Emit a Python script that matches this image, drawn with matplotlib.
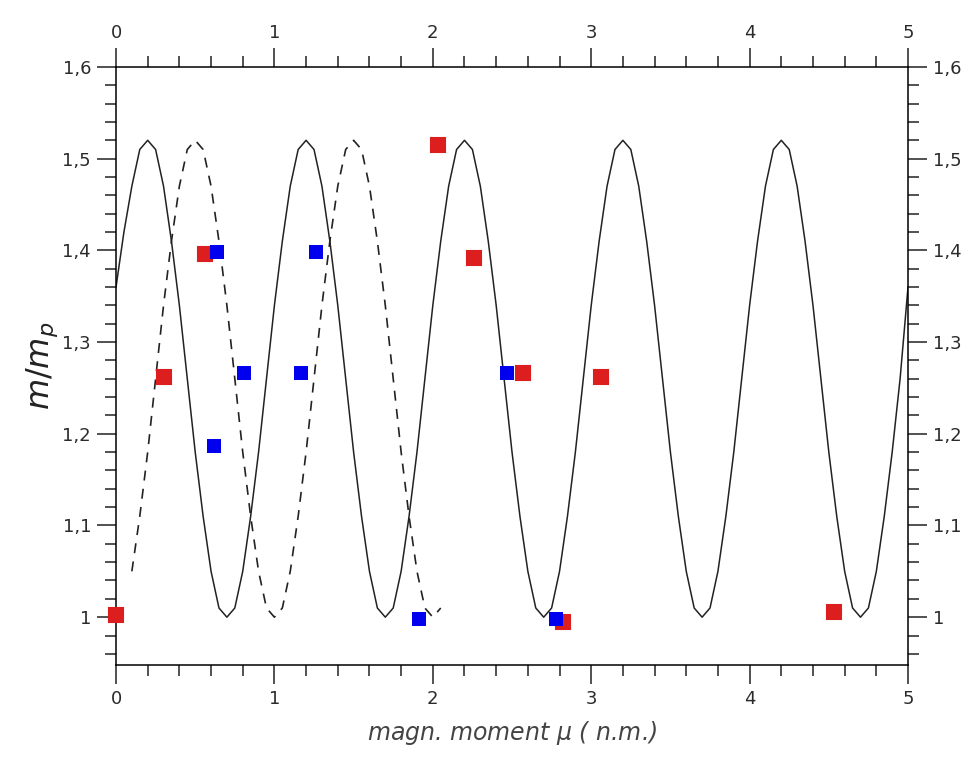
import matplotlib
matplotlib.use('Agg')
import matplotlib.pyplot as plt
from matplotlib.ticker import MultipleLocator, FuncFormatter

plt.rcParams.update({
    'font.family': 'DejaVu Sans',
    'font.size': 13,
    'axes.linewidth': 1.1,
})

# ── solid curve (read every 0.05) ────────────────────────────────────────────
solid_x = [i * 0.05 for i in range(101)]
solid_y = [
    1.36, 1.42, 1.47, 1.51, 1.52, 1.51, 1.47, 1.41, 1.34, 1.26,
    1.18, 1.11, 1.05, 1.01, 1.00, 1.01, 1.05, 1.11, 1.18, 1.26,
    1.34, 1.41, 1.47, 1.51, 1.52, 1.51, 1.47, 1.41, 1.34, 1.26,
    1.18, 1.11, 1.05, 1.01, 1.00, 1.01, 1.05, 1.11, 1.18, 1.26,
    1.34, 1.41, 1.47, 1.51, 1.52, 1.51, 1.47, 1.41, 1.34, 1.26,
    1.18, 1.11, 1.05, 1.01, 1.00, 1.01, 1.05, 1.11, 1.18, 1.26,
    1.34, 1.41, 1.47, 1.51, 1.52, 1.51, 1.47, 1.41, 1.34, 1.26,
    1.18, 1.11, 1.05, 1.01, 1.00, 1.01, 1.05, 1.11, 1.18, 1.26,
    1.34, 1.41, 1.47, 1.51, 1.52, 1.51, 1.47, 1.41, 1.34, 1.26,
    1.18, 1.11, 1.05, 1.01, 1.00, 1.01, 1.05, 1.11, 1.18, 1.26,
    1.36,
]

# ── dashed curve (0.10 … 2.05) ───────────────────────────────────────────────
dash_x = [0.10 + i * 0.05 for i in range(40)]
dash_y = [
    1.05, 1.11, 1.18, 1.26, 1.34, 1.41, 1.47, 1.51, 1.52, 1.51,
    1.47, 1.41, 1.34, 1.26, 1.18, 1.11, 1.05, 1.01, 1.00, 1.01,
    1.05, 1.11, 1.18, 1.26, 1.34, 1.41, 1.47, 1.51, 1.52, 1.51,
    1.47, 1.41, 1.34, 1.26, 1.18, 1.11, 1.05, 1.01, 1.00, 1.01,
]

# ── measured points ──────────────────────────────────────────────────────────
blue_x = [0.64, 1.26, 0.81, 1.17, 0.62, 2.47, 1.91, 2.78]
blue_y = [1.398, 1.398, 1.266, 1.266, 1.187, 1.266, 0.998, 0.998]
red_x = [0.00, 0.30, 0.56, 2.03, 2.26, 2.57, 2.82, 3.06, 4.53]
red_y = [1.002, 1.262, 1.396, 1.515, 1.392, 1.266, 0.995, 1.262, 1.006]

fig = plt.figure(figsize=(9.79, 7.74), dpi=100)
ax = fig.add_axes([0.1185, 0.141, 0.809, 0.7725])

ax.plot(solid_x, solid_y, color='#222222', lw=1.1, solid_joinstyle='round')
ax.plot(dash_x, dash_y, color='#222222', lw=1.2, dashes=(6, 5))
ax.plot(red_x[:2], red_y[:2], 's', color='#dd1e1e', ms=10, mew=1.5,
        mec='#dd1e1e', zorder=3, clip_on=False)
ax.plot(blue_x, blue_y, 's', color='#0000ee', ms=10, mew=0, zorder=4)
ax.plot(red_x[2:], red_y[2:], 's', color='#dd1e1e', ms=10, mew=1.5,
        mec='#dd1e1e', zorder=3)

ax.set_xlim(0, 5)
ax.set_ylim(0.948, 1.6)
ax.xaxis.set_major_locator(MultipleLocator(1))
ax.xaxis.set_minor_locator(MultipleLocator(0.2))
ax.yaxis.set_major_locator(MultipleLocator(0.1))
ax.yaxis.set_minor_locator(MultipleLocator(0.02))

comma = FuncFormatter(lambda v, p: ('%g' % round(v, 2)).replace('.', ','))
ax.yaxis.set_major_formatter(comma)
ax.tick_params(which='both', direction='out', top=True, right=True,
               labeltop=True, labelright=True, colors='#222222',
               labelcolor='#2a2a2a', width=1.1, labelsize=13)
ax.tick_params(which='major', length=14, pad=4)
ax.tick_params(which='minor', length=8)

ax.set_xlabel(r'magn. moment $\mu$ ( n.m.)', fontsize=17, style='italic',
              color='#444444', labelpad=8)
ax.set_ylabel(r'$m/m_p$', fontsize=23, color='#222222', labelpad=2)

plt.savefig('out.png', dpi=100)
plt.close()
